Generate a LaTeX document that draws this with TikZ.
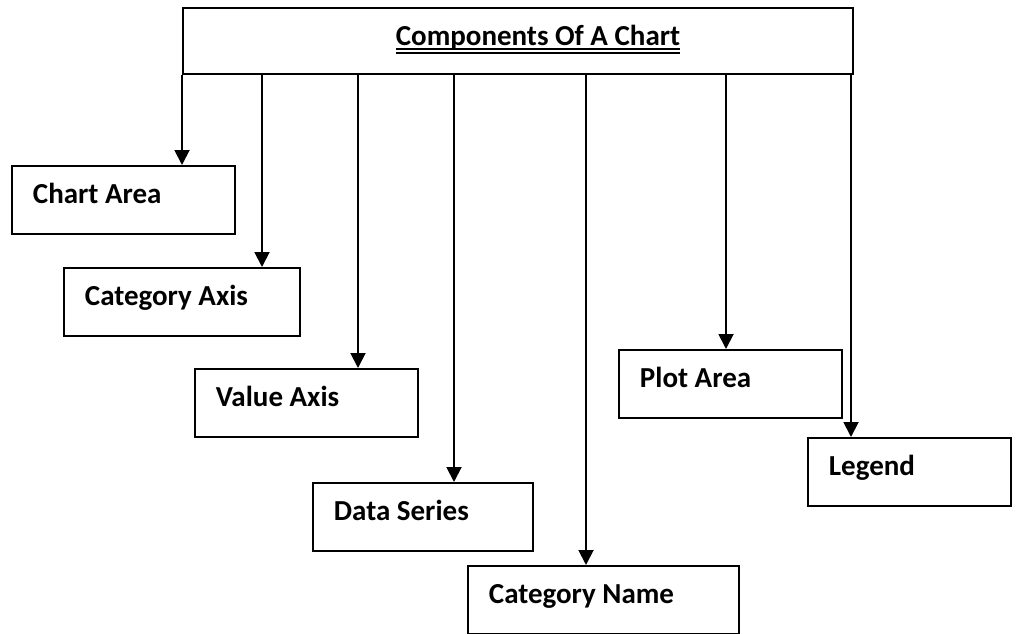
\documentclass[tikz,border=0pt]{standalone}
\usepackage{fontspec}
\setmainfont{Carlito}
\usetikzlibrary{arrows.meta}
\begin{document}
\begin{tikzpicture}[x=1pt,y=-1pt,
  box/.style={draw=black, line width=1.9pt, anchor=north west, minimum height=68pt,
    inner xsep=21pt, align=flush left, text height=20pt, text depth=12pt,
    font=\fontsize{29}{34}\selectfont\bfseries},
  arr/.style={draw=black, line width=1.9pt, -{Triangle[length=15pt,width=15pt]}}]
\useasboundingbox (0,0) rectangle (1018,633);
% top box
\node[draw=black, line width=1.9pt, anchor=north west, minimum width=670pt, minimum height=66pt, inner sep=0pt] (top) at (182,7) {};
\node[anchor=base, inner sep=0pt, font=\fontsize{29}{34}\selectfont\bfseries] (title) at (538,45) {Components Of A Chart};
\draw[line width=2pt] ([yshift=-3.5pt]title.base west) -- ([yshift=-3.5pt]title.base east);
\draw[line width=1.2pt] ([yshift=-8pt]title.base west) -- ([yshift=-8pt]title.base east);
% boxes
\node[box, minimum width=223pt, text width=181pt] (chartarea) at (11,165) {Chart Area};
\node[box, minimum width=236pt, text width=194pt] (catax) at (63,267) {Category Axis};
\node[box, minimum width=223pt, text width=181pt] (valax) at (194,368) {Value Axis};
\node[box, minimum width=220pt, text width=178pt] (dataser) at (312,482) {Data Series};
\node[box, minimum width=271pt, text width=229pt] (catname) at (467,565) {Category Name};
\node[box, minimum width=223pt, text width=181pt] (plotarea) at (618,349) {Plot Area};
\node[box, minimum width=203pt, text width=161pt] (legend) at (807,437) {Legend};
% arrow x positions
\coordinate (x1) at (182,0);
\coordinate (x2) at (262,0);
\coordinate (x3) at (358,0);
\coordinate (x4) at (454,0);
\coordinate (x5) at (586,0);
\coordinate (x6) at (726,0);
\coordinate (x7) at (851,0);
\draw[arr] (top.south -| x1) -- (chartarea.north -| x1);
\draw[arr] (top.south -| x2) -- (catax.north -| x2);
\draw[arr] (top.south -| x3) -- (valax.north -| x3);
\draw[arr] (top.south -| x4) -- (dataser.north -| x4);
\draw[arr] (top.south -| x5) -- (catname.north -| x5);
\draw[arr] (top.south -| x6) -- (plotarea.north -| x6);
\draw[arr] (top.south -| x7) -- (legend.north -| x7);
\end{tikzpicture}
\end{document}
